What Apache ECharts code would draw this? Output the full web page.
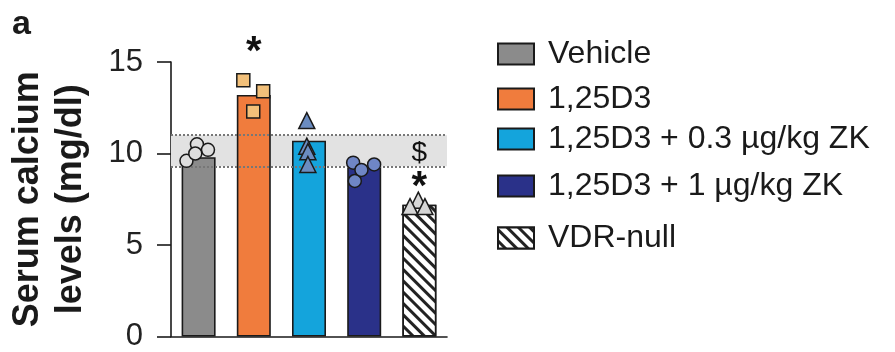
<!DOCTYPE html>
<html><head><meta charset="utf-8">
<script src="https://cdn.jsdelivr.net/npm/echarts@6/dist/echarts.min.js"></script>
<style>html,body{margin:0;padding:0;background:#fff}#c{width:895px;height:352px}</style>
</head><body><div id="c"></div>
<script>
// ---- data ----
const groups = ['Vehicle', '1,25D3', '1,25D3 + 0.3 \u00b5g/kg ZK', '1,25D3 + 1 \u00b5g/kg ZK', 'VDR-null'];
const barMeans = [9.8, 13.2, 10.7, 9.3, 7.2];
const ptsVehicle = [10.5, 10.2, 9.6, 10.0];
const ptsD3 = [14.0, 13.4, 12.3];
const ptsZK03 = [11.8, 10.4, 10.1, 9.4];
const ptsZK1 = [9.5, 9.4, 8.5, 9.1];
const ptsVDR = [7.45, 7.1, 7.1];
const normalRange = [9.3, 11.0];
const yTicks = [0, 5, 10, 15];
const annotations = [['*', 1, 16.0], ['$', 4, 10.0], ['*', 4, 8.6]];

// ---- layout / style ----
const jitter = [
  [-0.03, 0.17, -0.22, -0.06],
  [-0.19, 0.17, -0.01],
  [-0.04, -0.04, -0.02, -0.02],
  [-0.2, 0.18, -0.17, -0.05],
  [-0.02, -0.17, 0.1]
];
const points = [ptsVehicle, ptsD3, ptsZK03, ptsZK1, ptsVDR];
const barColors = ['#8b8b8b', '#f07c3d', '#14a4dc', '#2a3189', '#ffffff'];
const ptColors = ['#dedede', '#f2c07a', '#6b8cc0', '#6f86c6', '#d6d6d6'];
const ptSymbols = ['circle', 'rect', 'triangle', 'circle', 'triangle'];
const legendCenters = [54, 99, 139, 186, 238];
const FONT = 'Liberation Sans, Arial, Helvetica, sans-serif';
const ink = '#1a1a1a';

const chart = echarts.init(document.getElementById('c'), null, {renderer: 'canvas'});

const series = [];
// reference band (normal range)
series.push({
  type: 'line', data: [], z: 1, silent: true,
  markArea: {silent: true, itemStyle: {color: '#e2e2e2'}, data: [[{yAxis: normalRange[0]}, {yAxis: normalRange[1]}]]},
  markLine: {silent: true, symbol: 'none', label: {show: false},
    lineStyle: {color: '#777777', type: [2, 2], width: 2.2},
    data: [{yAxis: normalRange[0]}, {yAxis: normalRange[1]}]}
});
groups.forEach((g, i) => {
  const data = groups.map((_, j) => j === i ? barMeans[i] : '-');
  const s = {
    name: g, type: 'bar', stack: 'all', barWidth: 34, data: data, z: 3,
    itemStyle: {color: barColors[i], borderColor: ink, borderWidth: 1.6}
  };
  if (i === 4) {
    s.itemStyle.decal = {symbol: 'rect', symbolSize: 1, dashArrayX: [1, 0], dashArrayY: [2.2, 4.2], rotation: Math.PI / 4, color: '#222', backgroundColor: '#fff'};
  }
  series.push(s);
});
points.forEach((arr, i) => {
  series.push({
    type: 'scatter', xAxisIndex: 1, yAxisIndex: 0, z: 5, clip: false,
    symbol: ptSymbols[i], symbolSize: ptSymbols[i] === 'triangle' ? 16 : 13,
    itemStyle: {color: ptColors[i], borderColor: ink, borderWidth: 1.5, opacity: 1},
    data: arr.map((v, k) => [i + jitter[i][k], v])
  });
});
series.push({
  type: 'scatter', xAxisIndex: 1, z: 6, clip: false, symbol: 'circle', symbolSize: 2,
  itemStyle: {color: 'rgba(255,255,255,0)'},
  label: {show: true, position: 'inside', color: '#111', opacity: 1, fontFamily: FONT, textBorderWidth: 0, formatter: p => p.name},
  data: annotations.map(a => ({value: [a[1], a[2]], name: a[0],
    label: {color: '#111', fontSize: a[0] === '*' ? 40 : 28, fontWeight: a[0] === '*' ? 'bold' : 'normal', offset: a[0] === '*' ? [0, 9] : [0, 0]}}))
});

const legends = groups.map((g, i) => ({
  data: [g], left: 497, top: legendCenters[i] - 16, orient: 'vertical', icon: 'rect',
  itemWidth: 36, itemHeight: 21, selectedMode: false, padding: 0,
  textStyle: {fontFamily: FONT, fontSize: 32, color: ink, lineHeight: 32, padding: [0, 0, 0, 9]}
}));

chart.setOption({
  animation: false,
  title: {text: 'a', left: 12, top: 8, padding: 0, textStyle: {fontFamily: FONT, fontSize: 34, fontWeight: 'bold', color: ink}},
  legend: legends,
  grid: {left: 171, right: 448, top: 62, bottom: 12},
  xAxis: [
    {type: 'category', data: groups, axisLine: {onZero: false, lineStyle: {color: ink, width: 1.6}}, axisTick: {show: false}, axisLabel: {show: false}},
    {type: 'value', min: -0.5, max: 4.5, show: false}
  ],
  yAxis: {
    type: 'value', min: 0, max: 15, interval: 5,
    name: 'Serum calcium\nlevels (mg/dl)', nameLocation: 'middle', nameRotate: 90, nameGap: 78,
    nameTextStyle: {fontFamily: FONT, fontSize: 36, fontWeight: 'bold', color: ink, lineHeight: 43},
    axisLine: {show: true, onZero: false, lineStyle: {color: ink, width: 1.6}},
    axisTick: {show: true, length: 14, lineStyle: {color: ink, width: 1.6}},
    axisLabel: {fontFamily: FONT, fontSize: 31, color: '#222', margin: 28,
      formatter: v => yTicks.includes(v) ? String(v) : ''},
    splitLine: {show: false}
  },
  series: series
});
</script></body></html>
